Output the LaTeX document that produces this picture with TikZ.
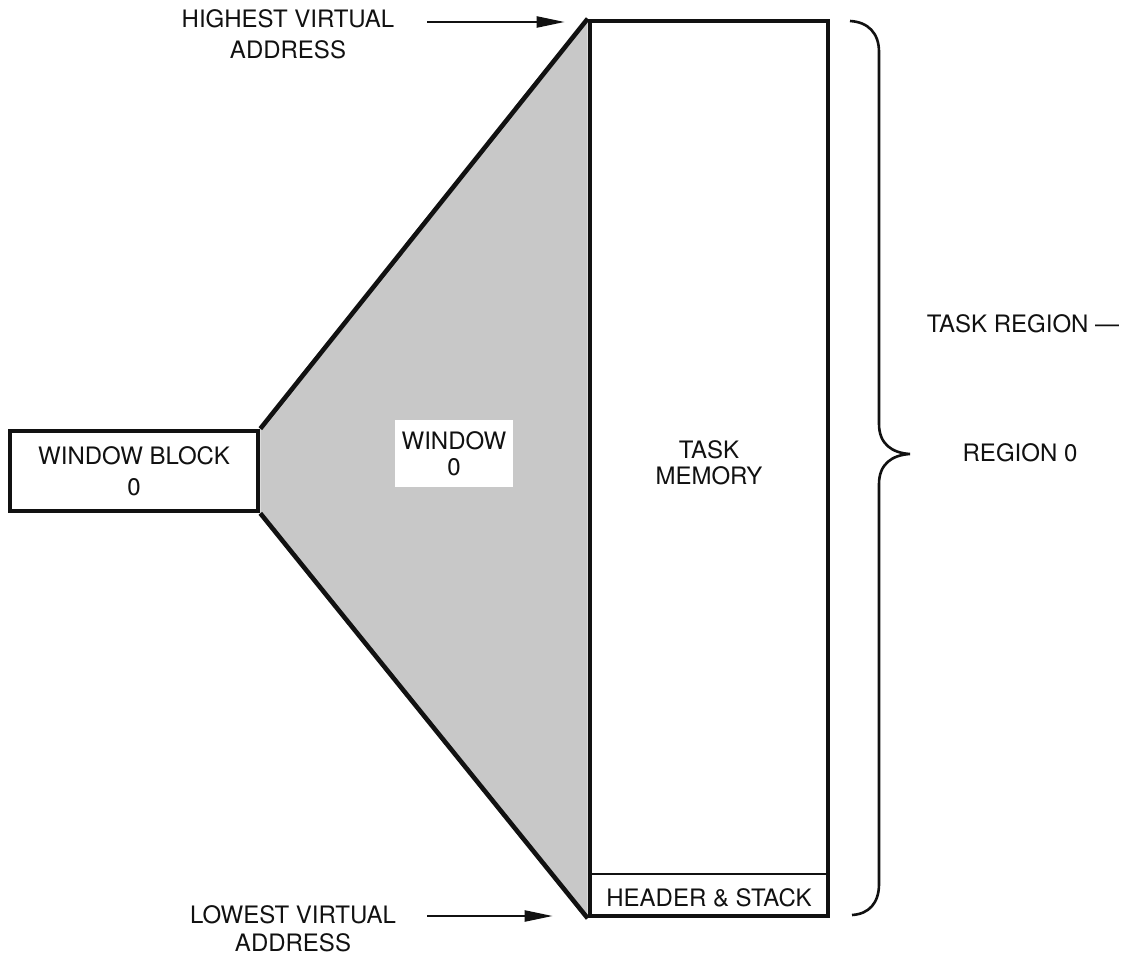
\documentclass[tikz,border=0pt]{standalone}
\usepackage{fontspec}
\setmainfont{TeX Gyre Heros}
\usetikzlibrary{arrows.meta,positioning,backgrounds}
\definecolor{mmInk}{HTML}{111111}
\definecolor{mmDots}{HTML}{C8C8C8}
\tikzset{
  frame/.style    ={draw=mmInk,line width=2.3pt,inner sep=0pt},
  blockbox/.style ={frame,fill=white,minimum width=124pt,minimum height=40pt,align=center},
  membox/.style   ={frame,minimum width=119pt,minimum height=447.5pt},
  hdrbox/.style   ={draw=mmInk,line width=1pt,inner sep=0pt,
                    minimum width=119pt,minimum height=21.5pt},
  tag/.style      ={fill=white,inner sep=0pt,align=center,text=mmInk,
                    minimum width=59pt,minimum height=33.5pt,
                    font=\fontsize{12}{13}\selectfont},
  lbl/.style      ={text=mmInk,align=center,inner sep=0pt},
  ptr/.style      ={-{Triangle[length=14pt,width=5.5pt]},mmInk,line width=1.1pt},
  slant/.style    ={mmInk,line width=2.3pt},
  brace/.style    ={mmInk,line width=1.3pt},
}

\begin{document}
\begin{tikzpicture}[x=0.5pt,y=-0.5pt,font=\fontsize{12}{15.5}\selectfont]
\useasboundingbox (0,0) rectangle (1123,956);
% ── task memory ────────────────────────────────────────────────────────────
\node[membox] (mem) at (709,468.5) {};
\node[hdrbox,anchor=south] (hdr) at (mem.south) {};
\node[lbl] (hdrTxt) at (709,898) {HEADER \& STACK};
\node[lbl,font=\fontsize{12}{13}\selectfont] (memTxt) at (709,463) {TASK\\MEMORY};

% ── window block and window ────────────────────────────────────────────────
\node[blockbox,lbl] (blk) at (134,471) {WINDOW BLOCK\\0};
\begin{scope}[on background layer]
  \fill[mmDots] (blk.north east) -- (mem.north west) -- (mem.south west)
    -- (blk.south east) -- cycle;
\end{scope}
\draw[slant] (blk.north east) -- (mem.north west);
\draw[slant] (blk.south east) -- (mem.south west);
\node[tag] (win) at (454,453.5) {WINDOW\\0};

% ── address pointers ───────────────────────────────────────────────────────
\node[lbl] (hiTxt) at (288,34) {HIGHEST VIRTUAL\\ADDRESS};
\node[lbl,font=\fontsize{12}{14}\selectfont] (loTxt) at (293,929) {LOWEST VIRTUAL\\ADDRESS};
\coordinate (hiTail) at (427,22);
\coordinate (loTail) at (427,916);
\draw[ptr,shorten >=11.5pt] (hiTail) -- (hiTail -| mem.west);
\draw[ptr,shorten >=17.5pt] (loTail) -- (loTail -| mem.west);

% ── task region brace ──────────────────────────────────────────────────────
\draw[brace] (850,21) .. controls (868,22) and (879,33) .. (879,52)
  -- (879,424) .. controls (879,444) and (892,453) .. (910,454)
  .. controls (892,455) and (879,464) .. (879,484)
  -- (879,884) .. controls (879,903) and (869,914) .. (852,915);
\node[lbl] (rgnA) at (1023,324) {TASK REGION ---};
\node[lbl] (rgnB) at (1020,453) {REGION 0};
\end{tikzpicture}
\end{document}
